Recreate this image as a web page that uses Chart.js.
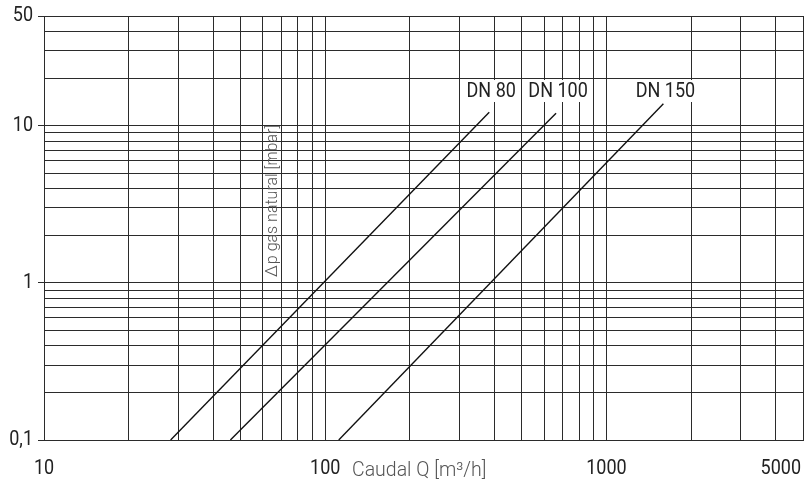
<!DOCTYPE html>
<html>
<head>
<meta charset="utf-8">
<script src="https://cdn.jsdelivr.net/npm/chart.js@4/dist/chart.umd.min.js"></script>
<style>
  html, body { margin: 0; padding: 0; background: #fff; }
  #wrap { width: 804px; height: 483px; }
</style>
</head>
<body>
<div id="wrap"><canvas id="chart" width="804" height="483"></canvas></div>
<script>
// Axis ranges and labelled ticks
const xMin = 10, xMax = 5000;
const yMin = 0.1, yMax = 50;
const xTickValues = [10, 100, 1000, 5000];
const xTickLabels = ['10', '100', '1000', '5000'];
const yTickValues = [0.1, 1, 10, 50];
const yTickLabels = ['0,1', '1', '10', '50'];

// Pressure drop curves (Q in m3/h, dp in mbar), end points
const seriesNames = ['DN 80', 'DN 100', 'DN 150'];
const dn80Q = [28.2, 383];
const dn80Dp = [0.1, 12.2];
const dn100Q = [46.0, 662];
const dn100Dp = [0.1, 12.0];
const dn150Q = [111.7, 1594];
const dn150Dp = [0.1, 13.8];

const xTitle = 'Caudal Q [m³/h]';
const yTitleSymbol = 'Δ';
const yTitleText = 'p gas natural [mbar]';

const LINE = '#2b2b2b';
const TEXT = '#222';
const FONT = 'Roboto, "DejaVu Sans", sans-serif';

const toPoints = (qs, dps) => qs.map((q, i) => ({ x: q, y: dps[i] }));

// full log grid: 1..9 x 10^n between min and max
function logGrid(min, max) {
    const out = [];
    for (let e = Math.floor(Math.log10(min)); e <= Math.ceil(Math.log10(max)); e++) {
        for (let m = 1; m <= 9; m++) {
            const v = +(m * Math.pow(10, e)).toPrecision(6);
            if (v >= min - 1e-9 && v <= max + 1e-9) out.push({ value: v });
        }
    }
    return out;
}

const isLabelled = (v, list) => list.some(t => Math.abs(t - v) < 1e-9);

function drawText(ctx, text, x, y, align, sx, font, color) {
    ctx.save();
    ctx.translate(x, y);
    ctx.scale(sx, 1);
    ctx.font = font;
    ctx.fillStyle = color;
    ctx.textAlign = align;
    ctx.textBaseline = 'middle';
    ctx.fillText(text, 0, 0);
    ctx.restore();
}

// Tick labels, axis titles and curve names
const textPlugin = {
    id: 'texts',
    afterDatasetsDraw(chart) {
        const ctx = chart.ctx;
        const xs = chart.scales.x, ys = chart.scales.y;
        const area = chart.chartArea;
        const tickFont = '400 20px ' + FONT;

        // y tick labels
        yTickValues.forEach((v, i) => {
            drawText(ctx, yTickLabels[i], 33, ys.getPixelForValue(v), 'right', 0.9, tickFont, TEXT);
        });

        // x tick labels (last one kept inside the canvas)
        xTickValues.forEach((v, i) => {
            const px = xs.getPixelForValue(v);
            const last = i === xTickValues.length - 1;
            drawText(ctx, xTickLabels[i], last ? 801 : px, 469, last ? 'right' : 'center', 0.9, tickFont, TEXT);
        });

        // x axis title
        drawText(ctx, xTitle, 352, 471, 'left', 1, '300 19.5px ' + FONT, '#555');

        // y axis title, rotated, inside the plot
        ctx.save();
        ctx.translate(277, 277);
        ctx.rotate(-Math.PI / 2);
        ctx.fillStyle = '#555';
        ctx.textAlign = 'left';
        ctx.textBaseline = 'alphabetic';
        ctx.font = '300 17px ' + FONT;
        ctx.fillText(yTitleSymbol, 0, 0);
        const w = ctx.measureText(yTitleSymbol).width;
        ctx.font = '300 16px ' + FONT;
        ctx.fillText(yTitleText, w + 1, 0);
        ctx.restore();

        // curve names above the upper end of each line
        chart.data.datasets.forEach(ds => {
            const end = ds.data[ds.data.length - 1];
            const cx = xs.getPixelForValue(end.x) + 2;
            const cy = area.top + 76;
            ctx.save();
            ctx.font = tickFont;
            const tw = ctx.measureText(ds.label).width * 0.9;
            ctx.fillStyle = '#fff';
            ctx.fillRect(cx - tw / 2 - 3, cy - 12, tw + 6, 22);
            ctx.restore();
            drawText(ctx, ds.label, cx, cy, 'center', 0.9, tickFont, TEXT);
        });
    }
};

const lineStyle = {
    borderColor: '#111',
    borderWidth: 1.4,
    pointRadius: 0,
    showLine: true,
    fill: false,
    tension: 0
};

new Chart(document.getElementById('chart'), {
    type: 'scatter',
    data: {
        datasets: [
            { label: seriesNames[0], data: toPoints(dn80Q, dn80Dp), ...lineStyle },
            { label: seriesNames[1], data: toPoints(dn100Q, dn100Dp), ...lineStyle },
            { label: seriesNames[2], data: toPoints(dn150Q, dn150Dp), ...lineStyle }
        ]
    },
    options: {
        responsive: false,
        animation: false,
        layout: { padding: { left: 38, right: 1, top: 16, bottom: 43 } },
        plugins: {
            legend: { display: false },
            tooltip: { enabled: false }
        },
        scales: {
            x: {
                type: 'logarithmic',
                min: xMin,
                max: xMax,
                afterBuildTicks: s => { s.ticks = logGrid(xMin, xMax); },
                ticks: { display: false, autoSkip: false },
                grid: { color: LINE, lineWidth: 1, drawTicks: false },
                border: { color: LINE, width: 1 }
            },
            y: {
                type: 'logarithmic',
                min: yMin,
                max: yMax,
                afterBuildTicks: s => { s.ticks = logGrid(yMin, yMax); },
                ticks: { display: false, autoSkip: false },
                grid: {
                    color: LINE,
                    lineWidth: 1,
                    drawTicks: true,
                    tickLength: 6,
                    tickColor: c => (c.tick && isLabelled(c.tick.value, yTickValues)) ? LINE : 'rgba(0,0,0,0)'
                },
                border: { color: LINE, width: 1 }
            }
        }
    },
    plugins: [textPlugin]
});
</script>
</body>
</html>
